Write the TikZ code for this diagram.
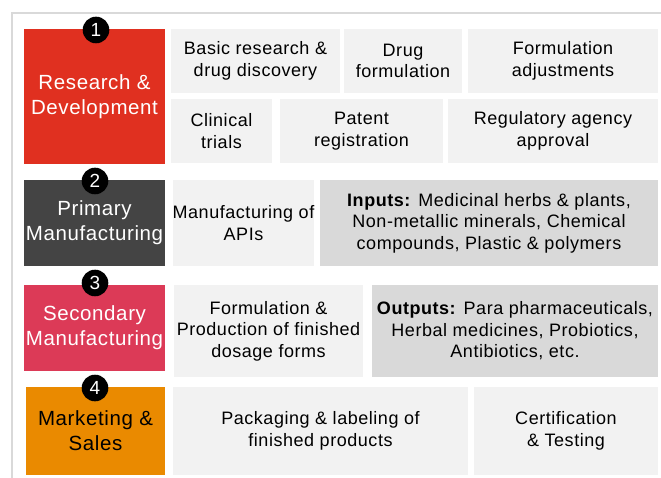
\documentclass[tikz,border=0pt]{standalone}
\usepackage{fontspec}
\setmainfont{Liberation Sans}
\newfontfamily\lsfont[LetterSpace=3]{Liberation Sans}
\definecolor{rdred}{HTML}{E03020}
\definecolor{pmgray}{HTML}{444444}
\definecolor{smpink}{HTML}{DC3A57}
\definecolor{msorange}{HTML}{EA8A00}
\definecolor{lightbox}{HTML}{F2F2F2}
\definecolor{midbox}{HTML}{D9D9D9}
\definecolor{framec}{HTML}{D9D9D9}
\tikzset{
  cell/.style={inner sep=0pt, outer sep=0pt, align=center, text=black,
    font=\lsfont\fontsize{18}{21.5}\selectfont,
    execute at begin node={\rule{0pt}{21pt}}},
  lite/.style={cell, fill=lightbox},
  mid/.style={cell, fill=midbox},
  stage/.style={inner sep=0pt, outer sep=0pt, align=center, text=white,
    font=\lsfont\fontsize{20.5}{25}\selectfont,
    execute at begin node={\rule{0pt}{22.5pt}}},
  badge/.style={circle, fill=black, inner sep=0pt, minimum size=26.6pt,
    text=white, font=\fontsize{19}{19}\selectfont},
}
\begin{document}
\begin{tikzpicture}[x=1pt,y=-1pt]
\useasboundingbox (0,0) rectangle (661,478);
% frame
\draw[framec, line width=2pt] (12,478) -- (12,13) -- (661,13);
% stage boxes
\node[stage, fill=rdred, minimum width=141pt, minimum height=135pt] (rd) at (94.5,96.5) {Research \&\\Development};
\node[stage, fill=pmgray, minimum width=141pt, minimum height=86pt] (pm) at (94.5,223) {Primary\\Manufacturing};
\node[stage, fill=smpink, minimum width=141pt, minimum height=86pt] (sm) at (94.5,328) {Secondary\\Manufacturing};
\node[stage, fill=msorange, text=black, minimum width=139pt, minimum height=88pt] (ms) at (95.5,431) {Marketing \&\\Sales};
% badges
\node[badge] (n1) at (96,30) {1};
\node[badge] (n2) at (95,181) {2};
\node[badge] (n3) at (95,283) {3};
\node[badge] (n4) at (95,388) {4};
% row 1
\node[lite, minimum width=169pt, minimum height=64pt] (b1) at (255.5,61) {Basic research \&\\drug discovery};
\node[lite, minimum width=118pt, minimum height=64pt] (b2) at (403,61) {Drug\\formulation};
\node[lite, minimum width=190pt, minimum height=64pt] (b3) at (563,61) {Formulation\\adjustments};
% row 2
\node[lite, minimum width=101pt, minimum height=64pt] (c1) at (221.5,131) {Clinical\\trials};
\node[lite, minimum width=163pt, minimum height=64pt] (c2) at (361.5,131) {Patent\\registration};
\node[lite, minimum width=210pt, minimum height=64pt] (c3) at (553,131) {Regulatory agency\\approval};
% row 3
\node[lite, minimum width=139pt, minimum height=86pt] (d1) at (243.5,223) {Manufacturing of\\APIs};
\node[mid, minimum width=338pt, minimum height=86pt] (d2) at (489,223) {\textbf{Inputs:} Medicinal herbs \& plants,\\Non-metallic minerals, Chemical\\compounds, Plastic \& polymers};
% row 4
\node[lite, minimum width=189pt, minimum height=92pt] (e1) at (268.5,331) {Formulation \&\\Production of finished\\dosage forms};
\node[mid, minimum width=286pt, minimum height=92pt] (e2) at (515,331) {\textbf{Outputs:} Para pharmaceuticals,\\Herbal medicines, Probiotics,\\Antibiotics, etc.};
% row 5
\node[lite, minimum width=295pt, minimum height=88pt] (f1) at (320.5,431) {Packaging \& labeling of\\finished products};
\node[lite, minimum width=184pt, minimum height=88pt] (f2) at (566,431) {Certification\\\& Testing};
\end{tikzpicture}
\end{document}
